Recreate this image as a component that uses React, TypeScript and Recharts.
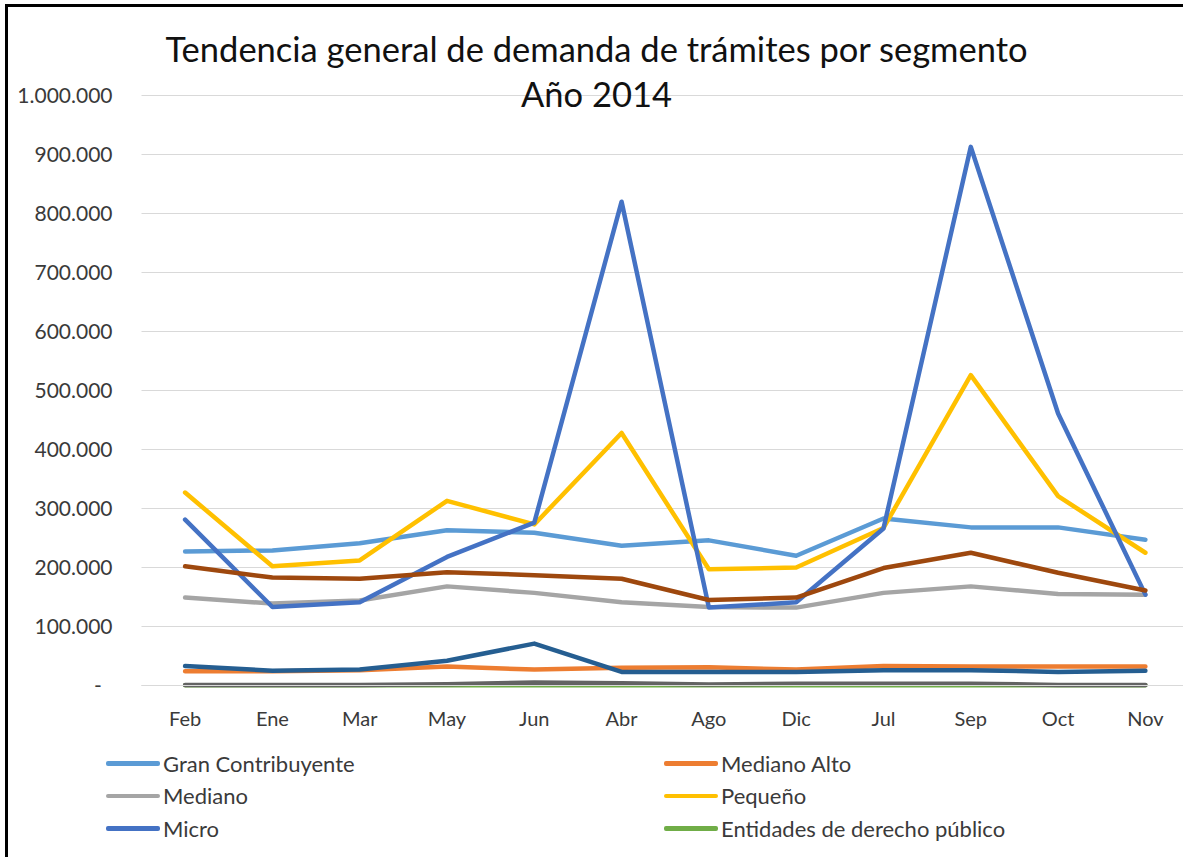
import React from 'react';
import {
  LineChart,
  Line,
  XAxis,
  YAxis,
  CartesianGrid,
  Legend,
} from 'recharts';

// months in the order the sheet has them
const categories = ['Feb', 'Ene', 'Mar', 'May', 'Jun', 'Abr', 'Ago', 'Dic', 'Jul', 'Sep', 'Oct', 'Nov'];

const granContribuyente = [227000, 229000, 241000, 263000, 259000, 237000, 246000, 220000, 283000, 268000, 268000, 247000];
const medianoAlto = [24000, 24000, 26000, 32000, 27000, 30000, 31000, 27000, 33000, 32000, 32000, 32000];
const mediano = [149000, 139000, 144000, 168000, 157000, 141000, 133000, 132000, 157000, 168000, 155000, 154000];
const pequeno = [327000, 202000, 212000, 313000, 273000, 428000, 197000, 200000, 267000, 526000, 321000, 225000];
const micro = [281000, 133000, 141000, 218000, 276000, 820000, 132000, 141000, 266000, 913000, 461000, 154000];
const entidades = [300, 300, 300, 300, 300, 300, 300, 300, 300, 300, 300, 300];
// the last three series fall outside the visible legend
const serie7 = [33000, 25000, 27000, 42000, 71000, 23000, 23000, 23000, 26000, 26000, 23000, 25000];
const serie8 = [202000, 183000, 181000, 192000, 187000, 181000, 145000, 149000, 199000, 225000, 191000, 161000];
const serie9 = [1000, 1000, 1000, 2000, 5000, 4000, 1500, 3000, 3000, 3000, 1000, 1000];

const yTicks = [0, 100000, 200000, 300000, 400000, 500000, 600000, 700000, 800000, 900000, 1000000];

const series = [
  { key: 'gran', name: 'Gran Contribuyente', color: '#5B9BD5', values: granContribuyente, legend: true },
  { key: 'medAlto', name: 'Mediano Alto', color: '#ED7D31', values: medianoAlto, legend: true },
  { key: 'mediano', name: 'Mediano', color: '#A5A5A5', values: mediano, legend: true },
  { key: 'pequeno', name: 'Pequeño', color: '#FFC000', values: pequeno, legend: true },
  { key: 'micro', name: 'Micro', color: '#4472C4', values: micro, legend: true },
  { key: 'entidades', name: 'Entidades de derecho público', color: '#70AD47', values: entidades, legend: true },
  { key: 's7', name: 'Serie 7', color: '#255E91', values: serie7, legend: false },
  { key: 's8', name: 'Serie 8', color: '#9E480E', values: serie8, legend: false },
  { key: 's9', name: 'Serie 9', color: '#636363', values: serie9, legend: false },
];

const data = categories.map((cat, i) => {
  const row: Record<string, string | number> = { mes: cat };
  series.forEach(s => { row[s.key] = s.values[i]; });
  return row;
});

const FONT = 'Lato, "Open Sans", sans-serif';
const TEXT = '#3a3a3a';

const formatTick = (v: number) => {
  if (v === 0) return '-\u00a0\u00a0';
  return String(v).replace(/\B(?=(\d{3})+(?!\d))/g, '.');
};

// two column legend, in series order (recharts would sort it by name)
const renderLegend = () => {
  const items = series.filter(s => s.legend);
  return (
    <div style={{ display: 'grid', gridTemplateColumns: '558px 500px' }}>
      {items.map(it => (
        <div key={it.key} style={{ display: 'flex', alignItems: 'center', height: 32.5 }}>
          <span style={{ display: 'inline-block', width: 54, height: 4.5, borderRadius: 2, background: it.color, marginRight: 3 }} />
          <span style={{ fontFamily: FONT, fontSize: 22, color: TEXT }}>{it.name}</span>
        </div>
      ))}
    </div>
  );
};

const App: React.FC = () => {
  return (
    <div style={{ position: 'absolute', left: 0, top: 0, width: 1183, height: 857, overflow: 'hidden', background: '#fff' }}>
      <LineChart
        width={1200}
        height={857}
        data={data}
        margin={{ top: 95.5, right: 11, bottom: 131.5, left: 0 }}
      >
        <CartesianGrid vertical={false} stroke="#D9D9D9" />
        <XAxis
          dataKey="mes"
          height={40}
          padding={{ left: 43.6, right: 43.6 }}
          axisLine={{ stroke: '#D9D9D9' }}
          tickLine={false}
          tickSize={0}
          tickMargin={26}
          interval={0}
          tick={{ fontFamily: FONT, fontSize: 20, fill: TEXT }}
        />
        <YAxis
          width={141.5}
          domain={[0, 1000000]}
          ticks={yTicks}
          axisLine={false}
          tickLine={false}
          tickSize={0}
          tickMargin={29}
          tickFormatter={formatTick}
          tick={{ fontFamily: FONT, fontSize: 21, fill: TEXT }}
        />
        {series.map(s => (
          <Line
            key={s.key}
            type="linear"
            dataKey={s.key}
            name={s.name}
            stroke={s.color}
            strokeWidth={4.5}
            strokeLinecap="round"
            strokeLinejoin="round"
            dot={false}
            activeDot={false}
            legendType={s.legend ? 'line' : 'none'}
            isAnimationActive={false}
          />
        ))}
        <Legend
          layout="horizontal"
          verticalAlign="middle"
          align="center"
          content={renderLegend}
          wrapperStyle={{ left: 106, top: 747, width: 1060, height: 100 }}
        />
      </LineChart>
      <div
        style={{
          position: 'absolute', left: 0, top: 26, width: 1193, textAlign: 'center',
          fontFamily: FONT, fontSize: 34.5, lineHeight: '45px', color: '#111', pointerEvents: 'none',
        }}
      >
        Tendencia general de demanda de trámites por segmento
        <br />
        Año 2014
      </div>
      <div
        style={{
          position: 'absolute', left: 5, top: 4, width: 1300, height: 1000,
          borderLeft: '3px solid #000', borderTop: '3px solid #000', pointerEvents: 'none',
        }}
      />
    </div>
  );
};

export default App;
